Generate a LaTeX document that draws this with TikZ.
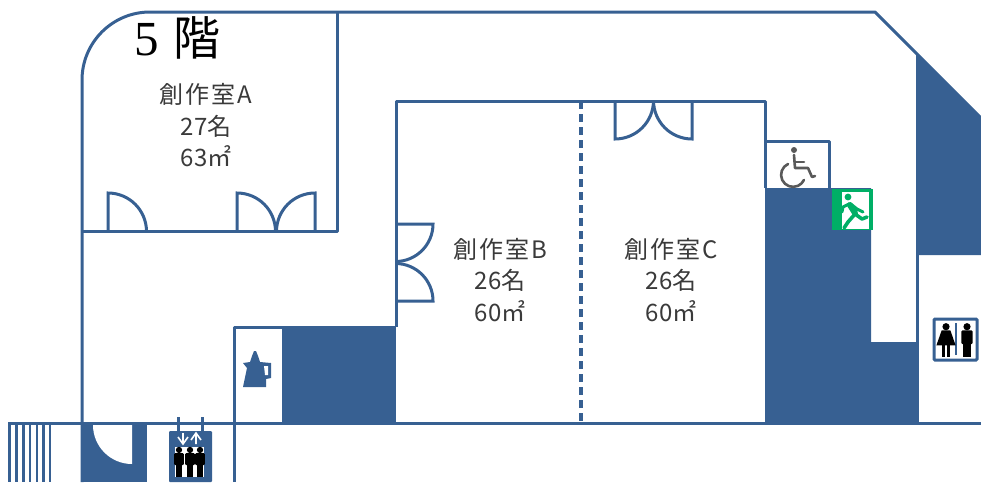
\documentclass[tikz,border=0pt]{standalone}
\usepackage{fontspec}
\setmainfont{Noto Sans CJK JP}
\newfontfamily\serifnum{Liberation Serif}
\definecolor{planblue}{HTML}{376092}
\definecolor{labelgrey}{HTML}{3A3A3A}
\definecolor{exitgreen}{HTML}{00AF66}
\definecolor{chairgrey}{HTML}{595959}
\newcommand{\spaced}[1]{{\addfontfeature{LetterSpace=8}#1}}
\tikzset{
  wall/.style={draw=planblue,line width=3pt,line join=round},
  thinwall/.style={draw=planblue,line width=2.8pt},
  dark/.style={fill=planblue,draw=none},
  doorleaf/.style={draw=planblue,line width=3pt},
  roomlabel/.style={text=labelgrey,font=\fontsize{24}{31.5}\selectfont,align=center,inner sep=0pt},
  pics/maleperson/.style={code={
    \fill (0,-11.5) circle[radius=3pt];
    \fill[rounded corners=1pt] (-4.6,-8.5) rectangle (4.6,3);
    \fill (-3,2) rectangle (-0.3,14);
    \fill (0.3,2) rectangle (3,14);
  }},
  pics/femaleperson/.style={code={
    \fill (0,-11.5) circle[radius=3pt];
    \fill (-3.6,-8.5) -- (3.6,-8.5) -- (8,4) -- (-8,4) -- cycle;
    \fill (-3,2) rectangle (-0.6,14);
    \fill (0.6,2) rectangle (3,14);
  }},
}
\begin{document}
\begin{tikzpicture}[x=1pt,y=-1pt]
\useasboundingbox (0,0) rectangle (981,482);
% dark areas
\fill[dark] (916,54) -- (981,118) -- (981,255) -- (916,255) -- cycle;
\fill[dark] (765,188) -- (871,188) -- (871,342) -- (917,342) -- (917,423) -- (765,423) -- cycle;
\fill[dark] (282,327) rectangle (396,423);
\fill[dark] (82,423) rectangle (147,482);
\fill[white] (93,425) arc[start angle=180,end angle=270,radius=39pt] -- (132,425) -- cycle;
% outer walls
\draw[wall] (82,482) -- (82,80) arc[start angle=180,end angle=90,radius=68pt] -- (875,12) -- (981,118);
\draw[wall] (337,13) -- (337,231) -- (82,231);
\draw[wall] (396,327) -- (396,101) -- (765,101) -- (765,188);
\draw[wall] (765,141) -- (829,141) -- (829,188);
\draw[wall] (234,482) -- (234,327) -- (396,327);
\draw[wall] (8,423) -- (981,423);
\draw[wall] (917,255) -- (917,423);
\draw[planblue,line width=3.4pt,dash pattern=on 8pt off 5pt] (581,101) -- (581,423);
% stairs
\foreach \sx in {9.5,16.5,23.5,30,37,43.5,50}
  \draw[thinwall] (\sx,423) -- (\sx,482);
% doors of room A
\draw[doorleaf] (108,231) -- (108,193) arc[start angle=90,end angle=0,radius=38.5pt];
\draw[doorleaf] (237,231) -- (237,193) arc[start angle=90,end angle=0,radius=38.5pt];
\draw[doorleaf] (315,231) -- (315,193) arc[start angle=90,end angle=180,radius=38.5pt];
% doors of room B
\draw[doorleaf] (396,224) -- (433,224) arc[start angle=0,end angle=-90,radius=37.5pt];
\draw[doorleaf] (396,301) -- (433,301) arc[start angle=0,end angle=90,radius=37.5pt];
% doors of room C
\draw[doorleaf] (615,101) -- (615,139) arc[start angle=-90,end angle=0,radius=38.5pt];
\draw[doorleaf] (692,101) -- (692,139) arc[start angle=-90,end angle=-180,radius=38.5pt];
% labels
\node[text=black,inner sep=0pt,font=\fontsize{47}{47}\selectfont,anchor=base west] (floorlabel) at (134,55) {{\serifnum\fontsize{49}{49}\selectfont 5}\hspace{15pt}階};
\node[roomlabel] (roomA) at (206,125.5) {\spaced{創作室A}\\27名\\63㎡};
\node[roomlabel] (roomB) at (500,280) {\spaced{創作室B}\\26名\\60㎡};
\node[roomlabel] (roomC) at (671,280) {\spaced{創作室C}\\26名\\60㎡};
% wheelchair
\begin{scope}[chairgrey,line width=2.6pt,line cap=round,line join=round]
\fill (794,150) circle[radius=3pt];
\draw (794,155) -- (795,168) -- (808,168) -- (812,177) -- (815,176);
\draw (795,162) -- (804,162);
\draw (788,164) arc[start angle=115,end angle=335,radius=12pt];
\end{scope}
% exit sign
\fill[exitgreen] (832,189) rectangle (872.5,230);
\fill[white] (842,192) rectangle (868.5,229);
\begin{scope}[exitgreen,line cap=round,line join=round]
\fill (848,197) circle[radius=3.4pt];
\draw[line width=6pt] (850,205) -- (855,213);
\draw[line width=3pt] (849,204) -- (843,207) -- (842,212);
\draw[line width=3pt] (852,205) -- (857,209) -- (863,212);
\draw[line width=3.6pt] (855,214) -- (848,222) -- (844,228);
\draw[line width=3.6pt] (855,214) -- (862,219) -- (867,217);
\end{scope}
% toilet sign
\draw[planblue,line width=3pt,fill=white,rounded corners=1pt] (934,319) rectangle (977,360);
\draw[planblue,line width=2.8pt] (956,323) -- (956,355);
\pic[black,scale=1.2] at (946,340.5) {femaleperson};
\pic[black,scale=1.2] at (967,340.5) {maleperson};
% kettle
\fill[planblue] (243,363) -- (250,362) -- (252,356) -- (254,351) -- (256,351) -- (258,356) -- (260,362) -- (271,363) -- (271,378) -- (266,379) -- (266,387) -- (243,387) -- (247,368) -- cycle;
\fill[white] (264,366) -- (268,366) -- (268,375) -- (265,375) -- cycle;
% elevator
\draw[thinwall] (178.5,417) -- (178.5,431);
\draw[thinwall] (202.5,417) -- (202.5,431);
\fill[dark,rounded corners=1pt] (169,431) rectangle (212,482);
\fill[white] (175,447) rectangle (204,477);
\begin{scope}[white,line width=1.6pt]
\draw (183,433) -- (183,444) (178,437) -- (183,444) -- (188,437);
\draw (196,433) -- (196,444) (191,440) -- (196,433) -- (201,440);
\end{scope}
\pic[black,scale=1.05] at (179,462) {maleperson};
\pic[black,scale=1.05] at (190,462) {maleperson};
\pic[black,scale=1.05] at (200,462) {maleperson};
\end{tikzpicture}
\end{document}
